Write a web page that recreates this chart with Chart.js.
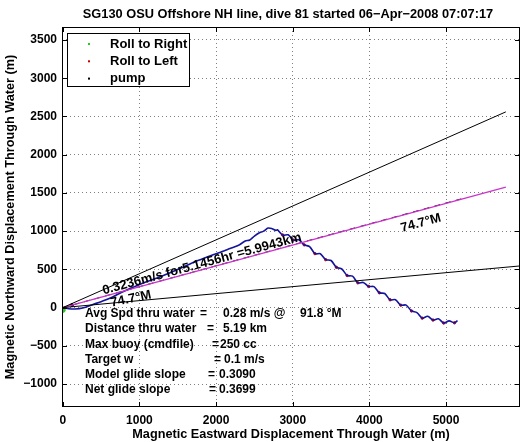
<!DOCTYPE html>
<html>
<head>
<meta charset="utf-8">
<script src="https://cdn.jsdelivr.net/npm/chart.js@4.4.1/dist/chart.umd.min.js"></script>
<style>
  html, body { margin: 0; padding: 0; background: #fff; overflow: hidden; }
  canvas { display: block; }
</style>
</head>
<body>
<canvas id="diveChart" width="528" height="442"></canvas>
<script>
// tick labels
const xTicks = [0, 1000, 2000, 3000, 4000, 5000];
const yTicks = [-1000, -500, 0, 500, 1000, 1500, 2000, 2500, 3000, 3500];

// glider track through water (m east, m north)
const trackE = [0, 80, 160, 260, 380, 520, 650, 800, 950, 1100, 1250, 1400, 1550, 1700, 1850, 2000,
  2150, 2300, 2380, 2440, 2500, 2560, 2620, 2680, 2730, 2780,
  2800, 2870, 2940, 3010, 3080, 3150, 3220, 3290, 3360, 3430, 3500, 3570, 3640, 3710, 3780, 3850,
  3920, 3990, 4060, 4130, 4200, 4270, 4340, 4410, 4480, 4550, 4620, 4690, 4760, 4830, 4900, 4970,
  5040, 5110, 5150];
const trackN = [0, -15, -18, -5, 35, 85, 140, 215, 280, 340, 395, 455, 520, 590, 650, 705,
  760, 820, 870, 885, 935, 975, 1000, 1040, 1032, 1010,
  1018, 949, 952, 883, 888, 821, 798, 706, 705, 627, 616, 527, 505, 420, 411, 324,
  329, 277, 275, 194, 184, 102, 103, 32, 33, -44, -65, -138, -114, -163, -146, -202,
  -173, -199, -170];

// roll markers and pump
const rollRightE = [0];
const rollRightN = [-30];
const rollLeftE = [2870, 3010, 3150, 3290, 3430, 3570, 3710, 3850, 3990, 4130, 4270, 4410, 4550, 4690, 4830, 4970, 5110];
const rollLeftN = [949, 883, 821, 706, 627, 527, 420, 324, 277, 194, 102, 32, -44, -138, -163, -202, -199];
const pumpE = [120];
const pumpN = [33];

// straight lines from the dive start
const upperLineE = [0, 5780];
const upperLineN = [0, 2560];
const lowerLineE = [0, 6000];
const lowerLineN = [0, 548];
const headingE = [0, 5780];
const headingN = [0, 1575];
const headingBlackE = [0, 5250];
const headingBlackN = [0, 1436];

const infoLines = [
  [['Avg Spd thru water', 85], ['=', 200], ['0.28 m/s @', 223], ['91.8 \u00B0M', 300]],
  [['Distance thru water', 85], ['=', 207], ['5.19 km', 223]],
  [['Max buoy (cmdfile)', 85], ['=', 212], ['250 cc', 220]],
  [['Target w', 85], ['=', 214], ['0.1 m/s', 224]],
  [['Model glide slope', 85], ['=', 208], ['0.3090', 219]],
  [['Net glide slope', 85], ['=', 209], ['0.3699', 219]]
];

const pts = (xs, ys) => xs.map((x, i) => ({ x: x, y: ys[i] }));
const FONT = '"Liberation Sans", Arial, Helvetica, sans-serif';
const tickFont = { family: FONT, size: 12, weight: 'bold' };
const axisFont = { family: FONT, size: 12.7, weight: 'bold' };
const minus = v => String(v).replace('-', '\u2212');

const decor = {
  id: 'decor',
  afterDraw(chart) {
    const ctx = chart.ctx;
    const a = chart.chartArea;
    const xs = chart.scales.x, ys = chart.scales.y;
    ctx.save();

    // box and inward ticks
    ctx.strokeStyle = '#000';
    ctx.lineWidth = 1;
    ctx.strokeRect(Math.round(a.left) + 0.5, Math.round(a.top) + 0.5,
      Math.round(a.right - a.left) - 1, Math.round(a.bottom - a.top) - 1);
    ctx.beginPath();
    xTicks.forEach(v => {
      const px = Math.round(xs.getPixelForValue(v)) + 0.5;
      ctx.moveTo(px, a.bottom); ctx.lineTo(px, a.bottom - 5);
      ctx.moveTo(px, a.top); ctx.lineTo(px, a.top + 5);
    });
    yTicks.forEach(v => {
      const py = Math.round(ys.getPixelForValue(v)) + 0.5;
      ctx.moveTo(a.left, py); ctx.lineTo(a.left + 5, py);
      ctx.moveTo(a.right, py); ctx.lineTo(a.right - 5, py);
    });
    ctx.stroke();

    ctx.fillStyle = '#000';

    // title
    ctx.font = 'bold 12.8px ' + FONT;
    ctx.textAlign = 'center';
    ctx.textBaseline = 'middle';
    ctx.fillText('SG130 OSU Offshore NH line, dive 81 started 06\u2212Apr\u22122008 07:07:17', 288, 14);

    ctx.font = 'bold 13px ' + FONT;

    // legend
    ctx.fillStyle = '#fff';
    ctx.fillRect(67.5, 33.5, 122, 53);
    ctx.strokeRect(67.5, 33.5, 122, 53);
    const legendSets = chart.data.datasets.filter(d => d.inLegend);
    legendSets.forEach((d, i) => {
      const y = 44 + i * 17.3;
      ctx.fillStyle = d.backgroundColor;
      ctx.fillRect(88, y - 1, 2, 2);
      ctx.fillStyle = '#000';
      ctx.textAlign = 'left';
      ctx.fillText(d.label, 110, y);
    });

    // rotated labels along the heading line
    const p0x = xs.getPixelForValue(headingE[0]), p0y = ys.getPixelForValue(headingN[0]);
    const p1x = xs.getPixelForValue(headingE[1]), p1y = ys.getPixelForValue(headingN[1]);
    const ang = Math.atan2(p1y - p0y, p1x - p0x);
    const along = (e, dy, text, align) => {
      const px = xs.getPixelForValue(e);
      const py = ys.getPixelForValue(e * headingN[1] / headingE[1]);
      ctx.save();
      ctx.translate(px, py);
      ctx.rotate(ang);
      ctx.textAlign = align;
      ctx.textBaseline = 'alphabetic';
      ctx.fillText(text, 0, dy);
      ctx.restore();
    };
    along(540, -2, '0.3236m/s for5.1456hr =5.9943km', 'left');
    along(4630, 16, '74.7\u00B0M', 'center');

    ctx.save();
    ctx.translate(131, 299);
    ctx.rotate(-12 * Math.PI / 180);
    ctx.textAlign = 'center';
    ctx.textBaseline = 'middle';
    ctx.fillText('74.7\u00B0M', 0, 0);
    ctx.restore();

    // info block
    ctx.font = 'bold 12px ' + FONT;
    ctx.textAlign = 'left';
    ctx.textBaseline = 'middle';
    infoLines.forEach((parts, i) => {
      const y = 314 + i * 15.1;
      parts.forEach(p => ctx.fillText(p[0], p[1], y));
    });

    ctx.restore();
  }
};

new Chart(document.getElementById('diveChart'), {
  type: 'scatter',
  data: {
    datasets: [
      { label: 'upper', data: pts(upperLineE, upperLineN), showLine: true, borderColor: '#000', borderWidth: 1, pointRadius: 0 },
      { label: 'lower', data: pts(lowerLineE, lowerLineN), showLine: true, borderColor: '#000', borderWidth: 1, pointRadius: 0 },
      { label: 'heading', data: pts(headingE, headingN), showLine: true, borderColor: '#cc33cc', borderWidth: 1.2, pointRadius: 0 },
      { label: 'heading black', data: pts(headingBlackE, headingBlackN), showLine: true, borderColor: '#000', borderWidth: 1, borderDash: [6, 5], pointRadius: 0 },
      { label: 'track', data: pts(trackE, trackN), showLine: true, borderColor: '#14149c', borderWidth: 1.6, pointRadius: 0, tension: 0.3 },
      { label: 'Roll to Right', inLegend: true, data: pts(rollRightE, rollRightN), backgroundColor: '#22cc22', borderColor: '#22cc22', pointRadius: 2.5 },
      { label: 'Roll to Left', inLegend: true, data: pts(rollLeftE, rollLeftN), backgroundColor: '#cc0000', borderColor: '#cc0000', pointRadius: 1.2 },
      { label: 'pump', inLegend: true, data: pts(pumpE, pumpN), backgroundColor: '#000', borderColor: '#000', pointRadius: 1.5 }
    ]
  },
  options: {
    responsive: false,
    animation: false,
    layout: { padding: { top: 27, right: 8, left: 0, bottom: 0 } },
    plugins: { legend: { display: false }, tooltip: { enabled: false }, title: { display: false } },
    scales: {
      x: {
        type: 'linear', min: -10, max: 5965,
        afterBuildTicks: s => { s.ticks = xTicks.map(v => ({ value: v })); },
        afterFit: s => { s.height = 35; },
        grid: { color: 'rgba(0,0,0,0.5)', drawTicks: false, lineWidth: 1 },
        border: { display: false, dash: [1, 3] },
        ticks: { font: tickFont, color: '#000', padding: 6, maxRotation: 0, callback: v => minus(v) },
        title: { display: true, text: 'Magnetic Eastward Displacement Through Water (m)', font: axisFont, color: '#000', padding: { top: 0, bottom: 0 } }
      },
      y: {
        type: 'linear', min: -1300, max: 3670,
        afterBuildTicks: s => { s.ticks = yTicks.map(v => ({ value: v })); },
        afterFit: s => { s.width = 62; },
        grid: { color: 'rgba(0,0,0,0.5)', drawTicks: false, lineWidth: 1 },
        border: { display: false, dash: [1, 3] },
        ticks: { font: tickFont, color: '#000', padding: 5, callback: v => minus(v) },
        title: { display: true, text: 'Magnetic Northward Displacement Through Water (m)', font: axisFont, color: '#000', padding: { top: 3, bottom: 0 } }
      }
    }
  },
  plugins: [decor]
});
</script>
</body>
</html>
